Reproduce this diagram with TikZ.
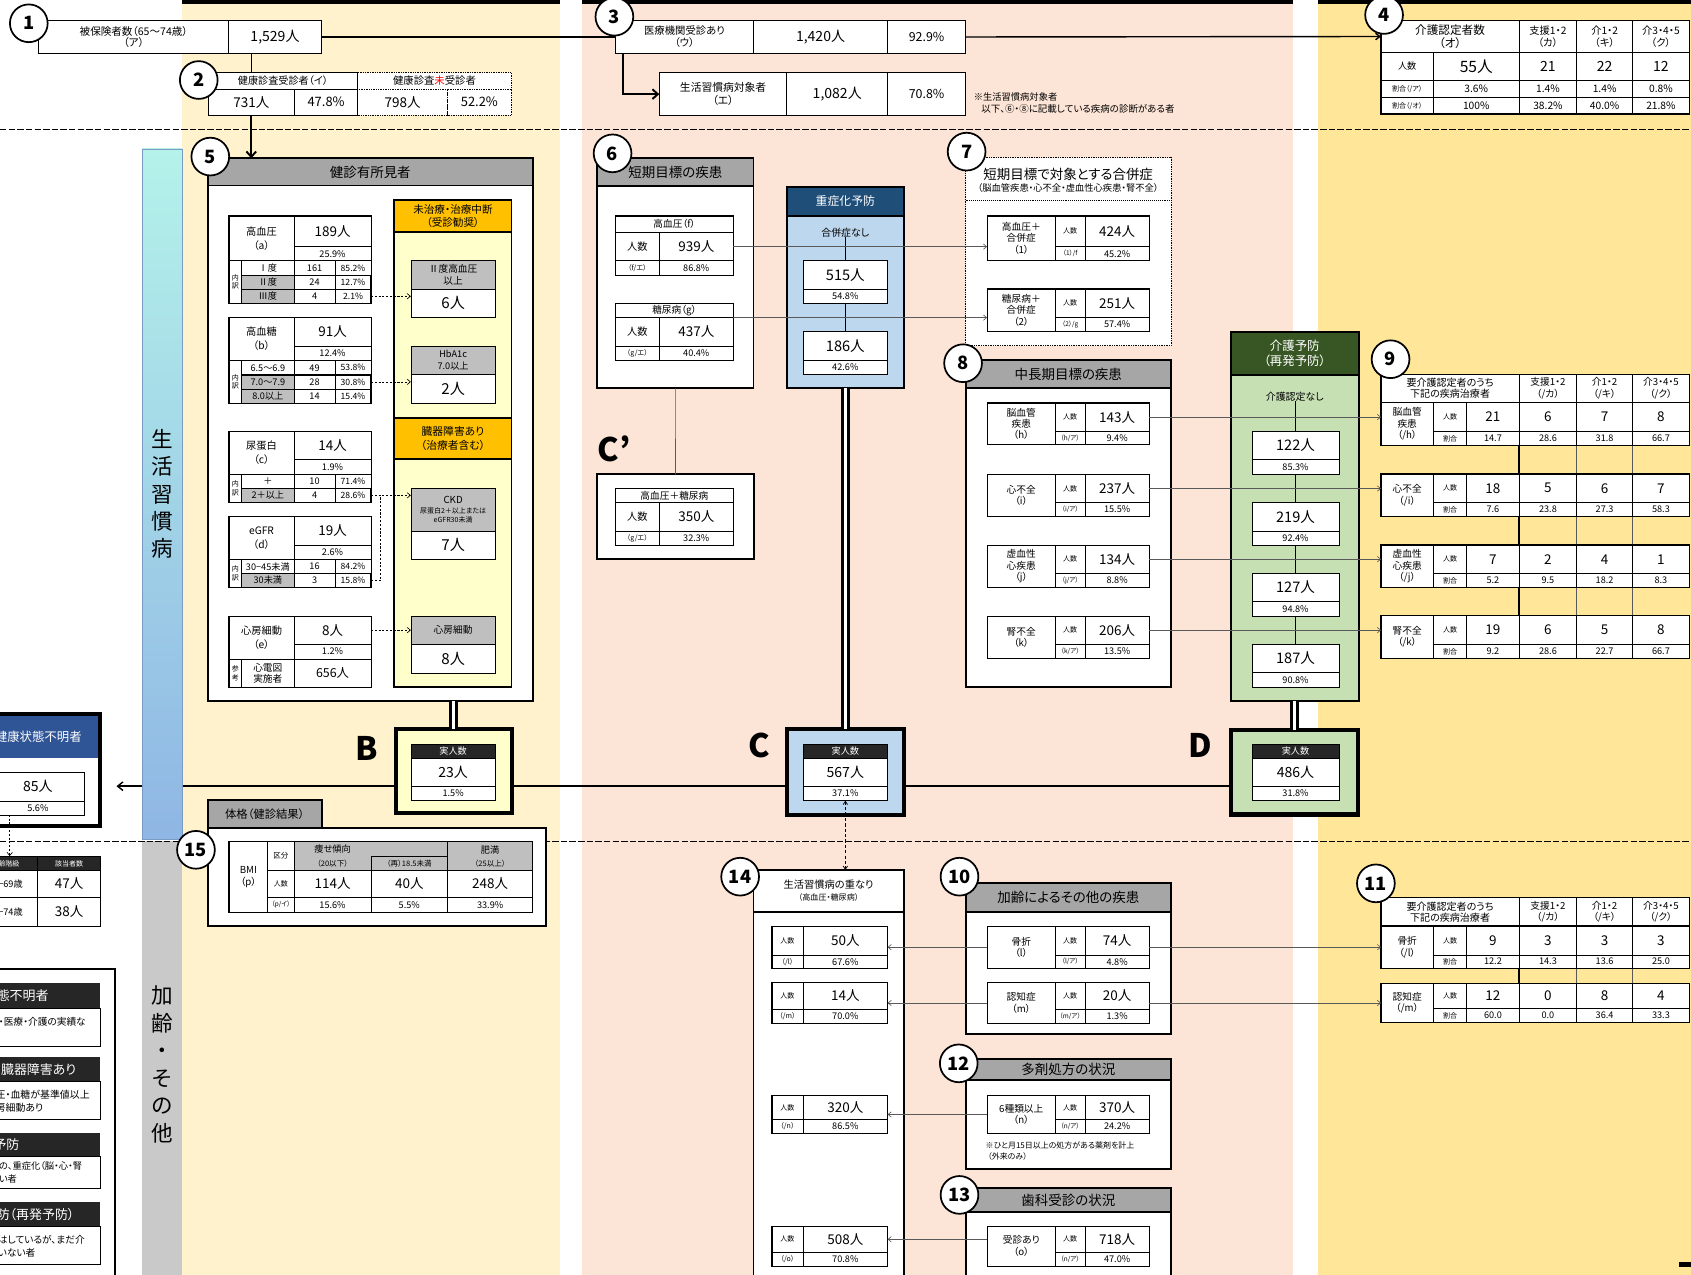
\documentclass[tikz,border=0pt]{standalone}
\usepackage{fontspec}
\setmainfont{Noto Sans CJK JP}[RawFeature=+palt]
\usetikzlibrary{arrows.meta,calc}
\definecolor{bgY}{HTML}{FFF2CC}
\definecolor{bgP}{HTML}{FCE4D6}
\definecolor{bgG}{HTML}{FFE699}
\definecolor{bandT}{HTML}{B4F2EA}
\definecolor{bandB}{HTML}{8FB6E4}
\definecolor{bandGr}{HTML}{C9C9C9}
\definecolor{grayH}{HTML}{A6A6A6}
\definecolor{cellG}{HTML}{BFBFBF}
\definecolor{goldH}{HTML}{FFC000}
\definecolor{ltY}{HTML}{FFFFCC}
\definecolor{dkBlue}{HTML}{1F4E79}
\definecolor{ltBlue}{HTML}{BDD7EE}
\definecolor{dkGreen}{HTML}{375623}
\definecolor{ltGreen}{HTML}{C6E0B4}
\definecolor{hdBlue}{HTML}{2F5597}
\definecolor{hdBlk}{HTML}{262626}
\definecolor{lnGray}{HTML}{595959}
\newcommand\xfz[2]{\fontsize{#1}{#2}\selectfont}
\newcommand\xcel[7][]{\node[cellbase,minimum width={(#5)-(#3)},minimum height={(#6)-(#4)},#1] (#2) at ({((#3)+(#5))/2},{((#4)+(#6))/2}) {#7};}
\newcommand\xhtop[7]{%
  \xcel[font=\xfz{9.5}{13}]{#1l}{212.3}{#2}{272.7}{#4}{#5}%
  \xcel[font=\xfz{12.5}{12.5}]{#1v}{272.7}{#2}{344}{#3}{#6}%
  \xcel[font=\xfz{8.5}{8.5}]{#1p}{272.7}{#3}{344}{#4}{#7}}
\newcommand\xhrow[7][fill=white]{%
  \xcel[#1,font=\xfz{8.5}{8.5}]{#2l}{224}{#3}{272.7}{#4}{#5}%
  \xcel[font=\xfz{8.5}{8.5}]{#2n}{272.7}{#3}{310.7}{#4}{#6}%
  \xcel[font=\xfz{8}{8}]{#2p}{310.7}{#3}{344}{#4}{#7}}
\newcommand\xstab[9]{%
  \xcel[font=\xfz{9}{9}]{#1h}{570.7}{#2}{680}{#3}{#6}%
  \xcel[font=\xfz{9.5}{9.5}]{#1n}{570.7}{#3}{611.3}{#4}{人数}%
  \xcel[font=\xfz{12.5}{12.5}]{#1v}{611.3}{#3}{680}{#4}{#7}%
  \xcel[font=\xfz{6.5}{6.5}]{#1r}{570.7}{#4}{611.3}{#5}{#8}%
  \xcel[font=\xfz{8.5}{8.5}]{#1p}{611.3}{#4}{680}{#5}{#9}%
  \draw[line width=0.9pt] (#1h.north west) rectangle (#1p.south east);}
\newcommand\xditem[8]{%
  \xcel[font=\xfz{9}{10.5}]{#1l}{915.3}{#2}{978.7}{#4}{#5}%
  \xcel[font=\xfz{6.5}{6.5}]{#1n}{978.7}{#2}{1006}{#3}{人数}%
  \xcel[font=\xfz{12.5}{12.5}]{#1v}{1006}{#2}{1065.8}{#3}{#6}%
  \xcel[font=\xfz{6}{6}]{#1r}{978.7}{#3}{1006}{#4}{#7}%
  \xcel[font=\xfz{8.5}{8.5}]{#1p}{1006}{#3}{1065.8}{#4}{#8}%
  \draw[line width=0.9pt] (#1l.north west) rectangle (#1p.south east);}
\newcommand\xlitem[7]{%
  \xcel[font=\xfz{6.5}{6.5}]{#1n}{715.7}{#2}{744.7}{#3}{人数}%
  \xcel[font=\xfz{12.5}{12.5}]{#1v}{744.7}{#2}{823}{#3}{#5}%
  \xcel[font=\xfz{6.5}{6.5}]{#1r}{715.7}{#3}{744.7}{#4}{#6}%
  \xcel[font=\xfz{8.5}{8.5}]{#1p}{744.7}{#3}{823}{#4}{#7}%
  \draw[line width=0.9pt] (#1n.north west) rectangle (#1p.south east);}
\newcommand\xkhdr[7]{%
  \xcel[font=\xfz{9.3}{10.5}]{#1t}{1280.6}{#2}{1408.6}{#3}{#4}%
  \xcel[font=\xfz{9}{10.5}]{#1a}{1408.6}{#2}{1462.1}{#3}{#5}%
  \xcel[font=\xfz{9}{10.5}]{#1b}{1462.1}{#2}{1513.7}{#3}{#6}%
  \xcel[font=\xfz{9}{10.5}]{#1c}{1513.7}{#2}{1566.5}{#3}{#7}%
  \draw[line width=1.1pt] (#1t.north west) rectangle (#1c.south east);}
\newcommand\xkrow[6]{%
  \xcel[font=\xfz{9}{10.5}]{#1l}{1280.6}{#2}{1329.1}{#4}{#5}%
  \xcel[font=\xfz{6.5}{6.5}]{#1n}{1329.1}{#2}{1360.1}{#3}{人数}%
  \xcel[font=\xfz{6.5}{6.5}]{#1r}{1329.1}{#3}{1360.1}{#4}{割合}%
  \foreach \nv/\rv [count=\ci] in {#6}{%
    \pgfmathsetmacro\xa{{1360.1,1408.6,1462.1,1513.7}[\ci-1]}%
    \pgfmathsetmacro\xb{{1408.6,1462.1,1513.7,1566.5}[\ci-1]}%
    \xcel[font=\xfz{12.5}{12.5}]{#1v\ci}{\xa}{#2}{\xb}{#3}{\nv}%
    \xcel[font=\xfz{8.5}{8.5}]{#1p\ci}{\xa}{#3}{\xb}{#4}{\rv}%
  }%
  \draw[line width=1.1pt] (#1l.north west) rectangle (#1p4.south east);
  \draw[line width=1.1pt] (#1v1.north east) -- (#1p1.south east);}
\tikzset{
  cellbase/.style={draw=black,line width=0.6pt,fill=white,inner sep=0pt,outer sep=0pt,align=center,font=\xfz{9}{10.5}},
  txt/.style={inner sep=0pt,outer sep=0pt,align=center},
  circnum/.style={circle,draw=black,line width=1.6pt,fill=white,minimum size=35pt,inner sep=0pt,font=\bfseries\xfz{17}{17}},
  biglbl/.style={inner sep=0pt,font=\bfseries\xfz{30}{30}},
  dotline/.style={line width=0.6pt,dash pattern=on 2pt off 1.5pt},
  dotarrow/.style={dotline,-{Straight Barb[length=3pt,width=5pt]}},
  gline/.style={draw=lnGray,line width=0.6pt},
  garrow/.style={gline,-{Straight Barb[length=3pt,width=5pt]}},
  mainline/.style={line width=1.3pt},
  bigarrow/.style={line width=1.8pt,-{Straight Barb[length=5pt,width=9pt]}},
  dbl/.style={double=white,double distance=3pt,line width=2.6pt},
  dashsep/.style={line width=1.1pt,dash pattern=on 6pt off 2pt},
  dashboth/.style={line width=0.7pt,dash pattern=on 3pt off 2pt,{Straight Barb[length=3pt,width=4pt]}-{Straight Barb[length=3pt,width=4pt]}},
  lgw/.style={txt,anchor=west,text=white,font=\xfz{12}{12}},
  lgb/.style={txt,anchor=west,align=left,font=\xfz{9}{12.4}}
}
\begin{document}
\begin{tikzpicture}[x=1pt,y=-1pt]
\useasboundingbox (0,0) rectangle (1568,1182);
\clip (0,0) rectangle (1568,1182);
% ---------------- backgrounds
\fill[bgY] (169,0) rectangle (519,1182);
\fill[bgP] (540,0) rectangle (1199,1182);
\fill[bgG] (1222,0) rectangle (1568,1182);
\fill[black] (169,0) rectangle (519,4);
\fill[black] (540,0) rectangle (1199,4);
\fill[black] (1222,0) rectangle (1568,4);
\node[draw=bandB!85!black,line width=0.5pt,top color=bandT,bottom color=bandB,minimum width=37pt,minimum height=640pt,inner sep=0pt,align=center,font=\xfz{20}{25.3}] (band) at (150.5,458) {生\\活\\習\\慣\\病};
\node[fill=bandGr,minimum width=37pt,minimum height=402pt,inner sep=0pt] (band2) at (150.5,981) {};
\node[txt,font=\xfz{20}{25.6}] (band2t) at (150.5,987) {加\\齢\\・\\そ\\の\\他};
\draw[dashsep] (0,120) -- (1568,120);
\draw[dashsep] (0,780) -- (1568,780);
\fill[black] (1556.7,1169.8) rectangle (1568,1174.4);
% ---------------- box 1,2,3
\xcel[font=\xfz{9.8}{11},line width=0.9pt]{b1l}{36}{19.2}{212}{49.4}{被保険者数（65～74歳）\\（ア）}
\xcel[font=\xfz{13}{13},line width=0.9pt]{b1v}{212}{19.2}{298}{49.4}{1,529人}
\xcel[font=\xfz{9.4}{9.4}]{b2ha}{193}{67.4}{331.7}{82.8}{健康診査受診者（イ）}
\xcel[font=\xfz{9.6}{9.6},densely dotted]{b2hb}{331.7}{67.4}{474}{82.8}{健康診査\textcolor{red}{未}受診者}
\xcel[font=\xfz{12.5}{12.5}]{b2va}{193}{82.8}{273}{106.6}{731人}
\xcel[font=\xfz{12}{12}]{b2pa}{273}{82.8}{331.7}{106.6}{47.8\%}
\xcel[font=\xfz{12.5}{12.5},densely dotted]{b2vb}{331.7}{82.8}{415}{106.6}{798人}
\xcel[font=\xfz{12}{12},densely dotted]{b2pb}{415}{82.8}{474}{106.6}{52.2\%}
\xcel[font=\xfz{9.6}{11},line width=0.9pt]{b3l}{570.7}{19.2}{698.7}{49.4}{医療機関受診あり\\（ウ）}
\xcel[font=\xfz{13}{13},line width=0.9pt]{b3v}{698.7}{19.2}{823}{49.4}{1,420人}
\xcel[font=\xfz{11.5}{11.5},line width=0.9pt]{b3p}{823}{19.2}{895.3}{49.4}{92.9\%}
\xcel[font=\xfz{10}{11.5},line width=0.9pt]{b3sl}{611.3}{67.4}{729.7}{107.2}{生活習慣病対象者\\（エ）}
\xcel[font=\xfz{13}{13},line width=0.9pt]{b3sv}{729.7}{67.4}{823}{107.2}{1,082人}
\xcel[font=\xfz{11.5}{11.5},line width=0.9pt]{b3sp}{823}{67.4}{895.3}{107.2}{70.8\%}
\node[txt,anchor=west,font=\xfz{8.6}{8.6}] (n3a) at (903,89.5) {※生活習慣病対象者};
\node[txt,anchor=west,font=\xfz{8.8}{8.8}] (n3b) at (910,101) {以下、⑥・⑧に記載している疾病の診断がある者};
% ---------------- box 4
\xcel[font=\xfz{10.8}{12}]{q4h}{1280.6}{19.2}{1408.6}{48.5}{介護認定者数\\（オ）}
\xcel[font=\xfz{9.5}{11.5}]{q4a}{1408.6}{19.2}{1462.1}{48.5}{支援1・2\\（カ）}
\xcel[font=\xfz{9.5}{11.5}]{q4b}{1462.1}{19.2}{1513.7}{48.5}{介1・2\\（キ）}
\xcel[font=\xfz{9.5}{11.5}]{q4c}{1513.7}{19.2}{1566.5}{48.5}{介3・4・5\\（ク）}
\xcel[font=\xfz{8.5}{8.5}]{q4n}{1280.6}{48.5}{1329.1}{74.8}{人数}
\xcel[font=\xfz{14.5}{14.5}]{q4v}{1329.1}{48.5}{1408.6}{74.8}{55人}
\xcel[font=\xfz{13}{13}]{q4va}{1408.6}{48.5}{1462.1}{74.8}{21}
\xcel[font=\xfz{13}{13}]{q4vb}{1462.1}{48.5}{1513.7}{74.8}{22}
\xcel[font=\xfz{13}{13}]{q4vc}{1513.7}{48.5}{1566.5}{74.8}{12}
\xcel[font=\xfz{6.5}{6.5}]{q4r}{1280.6}{74.8}{1329.1}{90.3}{割合（/ア）}
\xcel[font=\xfz{9.5}{9.5}]{q4r0}{1329.1}{74.8}{1408.6}{90.3}{3.6\%}
\xcel[font=\xfz{9.5}{9.5}]{q4ra}{1408.6}{74.8}{1462.1}{90.3}{1.4\%}
\xcel[font=\xfz{9.5}{9.5}]{q4rb}{1462.1}{74.8}{1513.7}{90.3}{1.4\%}
\xcel[font=\xfz{9.5}{9.5}]{q4rc}{1513.7}{74.8}{1566.5}{90.3}{0.8\%}
\xcel[font=\xfz{6.5}{6.5}]{q4s}{1280.6}{90.3}{1329.1}{105.7}{割合（/オ）}
\xcel[font=\xfz{9.5}{9.5}]{q4s0}{1329.1}{90.3}{1408.6}{105.7}{100\%}
\xcel[font=\xfz{9.5}{9.5}]{q4sa}{1408.6}{90.3}{1462.1}{105.7}{38.2\%}
\xcel[font=\xfz{9.5}{9.5}]{q4sb}{1462.1}{90.3}{1513.7}{105.7}{40.0\%}
\xcel[font=\xfz{9.5}{9.5}]{q4sc}{1513.7}{90.3}{1566.5}{105.7}{21.8\%}
\draw[line width=1.3pt] (q4h.north west) rectangle (q4sc.south east);
% ---------------- box 5
\xcel[line width=1.8pt]{b5}{192.7}{146.8}{494}{650}{}
\xcel[fill=grayH,line width=1.8pt,font=\xfz{12.5}{12.5}]{b5h}{192.7}{146.8}{494}{172}{健診有所見者}
\xhtop{ta}{200.2}{228.7}{241.7}{高血圧\\（a）}{189人}{25.9\%}
\xcel[font=\xfz{6.5}{8}]{tan}{212.3}{241.7}{224}{281.2}{内\\訳}
\xhrow{taa}{241.7}{255.2}{Ⅰ度}{161}{85.2\%}
\xhrow[fill=cellG]{tab}{255.2}{268.2}{Ⅱ度}{24}{12.7\%}
\xhrow[fill=cellG]{tac}{268.2}{281.2}{Ⅲ度}{4}{2.1\%}
\draw[line width=1.2pt] (tabl.north west) rectangle (tacp.south east);
\draw[line width=0.9pt] (tal.north west) rectangle (tacp.south east);
\xhtop{tb}{294.2}{320.8}{334.4}{高血糖\\（b）}{91人}{12.4\%}
\xcel[font=\xfz{6.5}{8}]{tbn}{212.3}{334.4}{224}{373.9}{内\\訳}
\xhrow{tba}{334.4}{347.6}{6.5～6.9}{49}{53.8\%}
\xhrow[fill=cellG]{tbb}{347.6}{360.6}{7.0～7.9}{28}{30.8\%}
\xhrow[fill=cellG]{tbc}{360.6}{373.9}{8.0以上}{14}{15.4\%}
\draw[line width=1.2pt] (tbbl.north west) rectangle (tbcp.south east);
\draw[line width=0.9pt] (tbl.north west) rectangle (tbcp.south east);
\xhtop{tc}{399.7}{425.9}{439.8}{尿蛋白\\（c）}{14人}{1.9\%}
\xcel[font=\xfz{6.5}{8}]{tcn}{212.3}{439.8}{224}{465.8}{内\\訳}
\xhrow{tca}{439.8}{452.8}{＋}{10}{71.4\%}
\xhrow[fill=cellG]{tcb}{452.8}{465.8}{2＋以上}{4}{28.6\%}
\draw[line width=1.2pt] (tcbl.north west) rectangle (tcbp.south east);
\draw[line width=0.9pt] (tcl.north west) rectangle (tcbp.south east);
\xhtop{td}{479}{505.3}{518.9}{eGFR\\（d）}{19人}{2.6\%}
\xcel[font=\xfz{6.5}{8}]{tdn}{212.3}{518.9}{224}{544.5}{内\\訳}
\xhrow{tda}{518.9}{531.9}{30−45未満}{16}{84.2\%}
\xhrow[fill=cellG]{tdb}{531.9}{544.5}{30未満}{3}{15.8\%}
\draw[line width=1.2pt] (tdbl.north west) rectangle (tdbp.south east);
\draw[line width=0.9pt] (tdl.north west) rectangle (tdbp.south east);
\xhtop{te}{571.2}{597.4}{611}{心房細動\\（e）}{8人}{1.2\%}
\xcel[font=\xfz{6.5}{8}]{ten}{212.3}{611}{224}{637.3}{参\\考}
\xcel[font=\xfz{9}{10.5}]{tee}{224}{611}{272.7}{637.3}{心電図\\実施者}
\xcel[font=\xfz{11.5}{11.5}]{tex}{272.7}{611}{344}{637.3}{656人}
\draw[line width=0.9pt] (tel.north west) rectangle (tex.south east);
% yellow column
\xcel[fill=ltY,line width=1.8pt]{yc}{365.7}{185.4}{474.3}{637.3}{}
\xcel[fill=goldH,line width=1.8pt,font=\xfz{9.8}{12}]{yh1}{365.7}{185.4}{474.3}{214.8}{未治療・治療中断\\（受診勧奨）}
\xcel[fill=goldH,line width=1.8pt,font=\xfz{10}{13}]{yh2}{365.7}{387.3}{474.3}{426}{臓器障害あり\\（治療者含む）}
\xcel[fill=cellG,font=\xfz{9}{11.5}]{y1h}{381}{241.7}{459.3}{268.2}{Ⅱ度高血圧\\以上}
\xcel[font=\xfz{14}{14}]{y1v}{381}{268.2}{459.3}{294.5}{6人}
\xcel[fill=cellG,font=\xfz{8.5}{11}]{y2h}{381}{320.8}{459.3}{347}{HbA1c\\7.0以上}
\xcel[font=\xfz{14}{14}]{y2v}{381}{347}{459.3}{373.9}{2人}
\xcel[fill=cellG,font=\xfz{6.5}{9}]{y3h}{381}{452.8}{459.3}{492.4}{{\xfz{9}{9}CKD}\\尿蛋白2＋以上または\\eGFR30未満}
\xcel[font=\xfz{14}{14}]{y3v}{381}{492.4}{459.3}{518.9}{7人}
\xcel[fill=cellG,font=\xfz{9}{9}]{y4h}{381}{571.2}{459.3}{597.4}{心房細動}
\xcel[font=\xfz{14}{14}]{y4v}{381}{597.4}{459.3}{624.3}{8人}
% ---------------- B box
\xcel[fill=ltY,line width=4pt]{Bo}{367}{675.8}{474.7}{753.7}{}
\xcel[fill=hdBlk,text=white,font=\xfz{8.5}{8.5}]{Bh}{381}{690}{459.3}{703}{実人数}
\xcel[font=\xfz{13}{13}]{Bv}{381}{703}{459.3}{729}{23人}
\xcel[font=\xfz{8.5}{8.5}]{Bp}{381}{729}{459.3}{742.4}{1.5\%}
% ---------------- box 15
\xcel[line width=1.8pt]{b15}{192.7}{767.5}{506}{858.7}{}
\xcel[fill=grayH,line width=1.5pt,font=\xfz{10.5}{10.5}]{b15t}{192.7}{742}{298.3}{767.5}{体格（健診結果）}
\xcel[font=\xfz{9}{11}]{pl}{212.3}{780.4}{248.3}{845.7}{BMI\\（p）}
\xcel[font=\xfz{7}{7}]{pk}{248.3}{780.4}{272.7}{807.4}{区分}
\xcel[fill=cellG]{pha}{272.7}{780.4}{415}{807.4}{}
\node[txt,font=\xfz{8.5}{12.5}] (phat) at (308.4,793.6) {痩せ傾向\\{\xfz{7}{12.5}（20以下）}};
\xcel[fill=cellG,font=\xfz{7}{7}]{phb}{344}{793.8}{415}{807.4}{（再）18.5未満}
\xcel[fill=cellG,font=\xfz{8.5}{12}]{phc}{415}{780.4}{494}{807.4}{肥満\\{\xfz{7}{12}（25以上）}}
\xcel[font=\xfz{6.5}{6.5}]{pn}{248.3}{807.4}{272.7}{832}{人数}
\xcel[font=\xfz{12.5}{12.5}]{pva}{272.7}{807.4}{344}{832}{114人}
\xcel[font=\xfz{12.5}{12.5}]{pvb}{344}{807.4}{415}{832}{40人}
\xcel[font=\xfz{12.5}{12.5}]{pvc}{415}{807.4}{494}{832}{248人}
\xcel[font=\xfz{6}{6}]{pr}{248.3}{832}{272.7}{845.7}{（p/イ）}
\xcel[font=\xfz{8.5}{8.5}]{ppa}{272.7}{832}{344}{845.7}{15.6\%}
\xcel[font=\xfz{8.5}{8.5}]{ppb}{344}{832}{415}{845.7}{5.5\%}
\xcel[font=\xfz{8.5}{8.5}]{ppc}{415}{832}{494}{845.7}{33.9\%}
\draw[line width=1pt] (pl.north west) rectangle (ppc.south east);
% ---------------- left: unknown health state
\xcel[line width=4pt]{Uo}{-20}{661.8}{93}{766}{}
\xcel[fill=hdBlue,draw=none,text=white,font=\xfz{11.5}{11.5}]{Uh}{-20}{663.8}{91}{702.5}{健康状態不明者}
\xcel[font=\xfz{13}{13}]{Uv}{-8}{716.4}{78.3}{742.7}{85人}
\xcel[font=\xfz{8.5}{8.5}]{Up}{-8}{742.7}{78.3}{755.6}{5.6\%}
\xcel[fill=hdBlk,text=white,font=\xfz{6.5}{6.5}]{Aha}{-25}{793.8}{35}{807.4}{年齢階級}
\xcel[fill=hdBlk,text=white,font=\xfz{6.5}{6.5}]{Ahb}{35}{793.8}{93.3}{807.4}{該当者数}
\xcel[font=\xfz{8.5}{8.5}]{Aal}{-25}{807.4}{35}{832}{65−69歳}
\xcel[font=\xfz{12.5}{12.5}]{Aav}{35}{807.4}{93.3}{832}{47人}
\xcel[font=\xfz{8.5}{8.5}]{Abl}{-25}{832}{35}{858.7}{70−74歳}
\xcel[font=\xfz{12.5}{12.5}]{Abv}{35}{832}{93.3}{858.7}{38人}
\coordinate (uA) at (9,755.6);
\draw[dotarrow] (uA) -- (uA |- Aha.north);
% legend
\xcel[line width=1.8pt]{Lo}{-20}{898.9}{107}{1200}{}
\xcel[fill=hdBlk,draw=none]{L1h}{-20}{911.8}{93}{935}{}
\xcel[line width=0.8pt]{L1b}{-20}{935}{93}{970.5}{}
\xcel[fill=hdBlk,draw=none]{L2h}{-20}{980.4}{93}{1003}{}
\xcel[line width=0.8pt]{L2b}{-20}{1003}{93}{1038}{}
\xcel[fill=hdBlk,draw=none]{L3h}{-20}{1050.9}{93}{1071.9}{}
\xcel[line width=0.8pt]{L3b}{-20}{1071.9}{93}{1102}{}
\xcel[fill=hdBlk,draw=none]{L4h}{-20}{1115}{93}{1137.4}{}
\xcel[line width=0.8pt]{L4b}{-20}{1137.4}{93}{1172.9}{}
\node[lgw] (L1t) at (-3,923.4) {態不明者};
\node[lgb] (L1s) at (-1,947.3) {・医療・介護の実績な};
\node[lgw] (L2t) at (1,991.7) {臓器障害あり};
\node[lgb,font=\xfz{9.2}{12.4}] (L2s) at (-4,1020.9) {圧・血糖が基準値以上\\房細動あり};
\node[lgw] (L3t) at (-6,1061.4) {予防};
\node[lgb,font=\xfz{8.6}{12.5}] (L3s) at (-1,1087.2) {の、重症化（脳・心・腎\\い者};
\node[lgw] (L4t) at (-3,1126.2) {防（再発予防）};
\node[lgb] (L4s) at (-2,1155.9) {はしているが、まだ介\\いない者};
% ---------------- box 6 and C'
\xcel[line width=1.8pt]{b6}{553.7}{146.8}{698.7}{360}{}
\xcel[fill=grayH,line width=1.8pt,font=\xfz{12.5}{12.5}]{b6h}{553.7}{146.8}{698.7}{172.1}{短期目標の疾患}
\xstab{sf}{200.2}{215.7}{241.7}{255.2}{高血圧（f）}{939人}{（f/エ）}{86.8\%}
\xstab{sg}{281.2}{294.5}{320.8}{334.4}{糖尿病（g）}{437人}{（g/エ）}{40.4\%}
\xcel[line width=1.8pt]{cpb}{553.7}{439.8}{699}{518.6}{}
\xstab{scq}{452.8}{466.1}{492.4}{505.4}{高血圧＋糖尿病}{350人}{（g/エ）}{32.3\%}
% ---------------- severity prevention column
\xcel[fill=ltBlue,line width=1.8pt]{bc}{729.7}{173}{838}{360}{}
\xcel[fill=dkBlue,text=white,line width=1.8pt,font=\xfz{11}{11}]{bch}{729.7}{173}{838}{200.2}{重症化予防}
\node[txt,font=\xfz{9.2}{9.2}] (bcs) at (783.8,215.4) {合併症なし};
\xcel[font=\xfz{13.5}{13.5}]{bc1v}{744.7}{241.7}{823}{268.2}{515人}
\xcel[font=\xfz{8.5}{8.5}]{bc1p}{744.7}{268.2}{823}{281.2}{54.8\%}
\xcel[font=\xfz{13.5}{13.5}]{bc2v}{744.7}{307.5}{823}{333.7}{186人}
\xcel[font=\xfz{8.5}{8.5}]{bc2p}{744.7}{333.7}{823}{347}{42.6\%}
\draw[line width=0.7pt] (bcs.south -| bc1v.north) -- (bc1v.north);
\draw[line width=0.7pt] (bc1p.south) -- (bc2v.north);
% C box
\xcel[fill=ltBlue,line width=4pt]{Co}{730}{675.8}{838.3}{755.8}{}
\xcel[fill=hdBlk,text=white,font=\xfz{8.5}{8.5}]{Ch}{744.7}{690.1}{823}{703.1}{実人数}
\xcel[font=\xfz{13}{13}]{Cv}{744.7}{703.1}{823}{728.8}{567人}
\xcel[font=\xfz{8.5}{8.5}]{Cp}{744.7}{728.8}{823}{742.4}{37.1\%}
% ---------------- box 7
\xcel[densely dotted,line width=0.8pt]{b7}{895.3}{146.2}{1085.8}{320.5}{}
\node[txt,font=\xfz{12.5}{12.5}] (b7t) at (990.5,161.3) {短期目標で対象とする合併症};
\node[txt,font=\xfz{8.6}{8.6}] (b7s) at (990.5,174) {（脳血管疾患・心不全・虚血性心疾患・腎不全）};
\draw[densely dotted,line width=0.8pt] (895.3,185.4) -- (1085.8,185.4);
\xditem{sa}{200.2}{228.7}{241.7}{高血圧＋\\合併症\\（1）}{424人}{（1）/f}{45.2\%}
\xditem{sb}{267.9}{294.5}{307.5}{糖尿病＋\\合併症\\（2）}{251人}{（2）/g}{57.4\%}
% ---------------- box 8
\xcel[line width=1.8pt]{b8}{895.3}{333.7}{1085.8}{636.7}{}
\xcel[fill=grayH,line width=1.8pt,font=\xfz{12.5}{12.5}]{b8h}{895.3}{333.7}{1085.8}{360}{中長期目標の疾患}
\xditem{mh}{373.6}{399.9}{412.3}{脳血管\\疾患\\（h）}{143人}{（h/ア）}{9.4\%}
\xditem{mi}{439.8}{466.1}{478.5}{心不全\\（i）}{237人}{（i/ア）}{15.5\%}
\xditem{mj}{505.4}{531.6}{544.6}{虚血性\\心疾患\\（j）}{134人}{（j/ア）}{8.8\%}
\xditem{mk}{571.2}{597.4}{610.4}{腎不全\\（k）}{206人}{（k/ア）}{13.5\%}
% ---------------- care prevention column
\xcel[fill=ltGreen,line width=1.8pt]{gc}{1141.1}{307.5}{1260.1}{650}{}
\xcel[fill=dkGreen,text=white,line width=1.8pt,font=\xfz{11.5}{13.5}]{gch}{1141.1}{307.5}{1260.1}{347.6}{介護予防\\（再発予防）}
\node[txt,font=\xfz{9.2}{9.2}] (gcs) at (1200.6,367.7) {介護認定なし};
\xcel[font=\xfz{13.5}{13.5}]{gc1v}{1160.8}{399.7}{1241.8}{425.9}{122人}
\xcel[font=\xfz{8.5}{8.5}]{gc1p}{1160.8}{425.9}{1241.8}{439.8}{85.3\%}
\xcel[font=\xfz{13.5}{13.5}]{gc2v}{1160.8}{465.8}{1241.8}{492.4}{219人}
\xcel[font=\xfz{8.5}{8.5}]{gc2p}{1160.8}{492.4}{1241.8}{505.4}{92.4\%}
\xcel[font=\xfz{13.5}{13.5}]{gc3v}{1160.8}{531.6}{1241.8}{557.9}{127人}
\xcel[font=\xfz{8.5}{8.5}]{gc3p}{1160.8}{557.9}{1241.8}{571.2}{94.8\%}
\xcel[font=\xfz{13.5}{13.5}]{gc4v}{1160.8}{597.4}{1241.8}{623.7}{187人}
\xcel[font=\xfz{8.5}{8.5}]{gc4p}{1160.8}{623.7}{1241.8}{637.3}{90.8\%}
\draw[line width=0.7pt] (gcs.south -| gc1v.north) -- (gc1v.north);
\draw[line width=0.7pt] (gc1p.south) -- (gc2v.north);
\draw[line width=0.7pt] (gc2p.south) -- (gc3v.north);
\draw[line width=0.7pt] (gc3p.south) -- (gc4v.north);
% D box
\xcel[fill=ltGreen,line width=4pt]{Do}{1141.4}{676.7}{1259.1}{755.2}{}
\xcel[fill=hdBlk,text=white,font=\xfz{8.5}{8.5}]{Dh}{1160.8}{690.1}{1241.8}{703.1}{実人数}
\xcel[font=\xfz{13}{13}]{Dv}{1160.8}{703.1}{1241.8}{728.8}{486人}
\xcel[font=\xfz{8.5}{8.5}]{Dp}{1160.8}{728.8}{1241.8}{742.4}{31.8\%}
% ---------------- box 9
\draw[line width=1.2pt] (1408.6,373.1) -- (1408.6,610.5);
\draw[gline] (1462.1,373.1) -- (1462.1,610.5);
\draw[gline] (1513.7,373.1) -- (1513.7,610.5);
\xkhdr{n9}{347.2}{373.1}{要介護認定者のうち\\下記の疾病治療者}{支援1・2\\（/カ）}{介1・2\\（/キ）}{介3・4・5\\（/ク）}
\xkrow{n9h}{373.1}{399.7}{413.3}{脳血管\\疾患\\（/h）}{21/14.7,6/28.6,7/31.8,8/66.7}
\xkrow{n9i}{439.6}{465.9}{478.9}{心不全\\（/i）}{18/7.6,5/23.8,6/27.3,7/58.3}
\xkrow{n9j}{505.4}{531.7}{544.7}{虚血性\\心疾患\\（/j）}{7/5.2,2/9.5,4/18.2,1/8.3}
\xkrow{n9k}{571}{597.5}{610.5}{腎不全\\（/k）}{19/9.2,6/28.6,5/22.7,8/66.7}
% ---------------- box 10
\xcel[line width=1.8pt]{b10}{895.3}{818.5}{1086}{959.1}{}
\xcel[fill=grayH,line width=1.8pt,font=\xfz{12.5}{12.5}]{b10h}{895.3}{818.5}{1086}{845.4}{加齢によるその他の疾患}
\xditem{xl}{858.7}{885.5}{897.9}{骨折\\（l）}{74人}{（l/ア）}{4.8\%}
\xditem{xm}{911.2}{935.9}{948.9}{認知症\\（m）}{20人}{（m/ア）}{1.3\%}
% ---------------- box 11
\draw[line width=1.2pt] (1408.6,858.7) -- (1408.6,948.3);
\draw[gline] (1462.1,858.7) -- (1462.1,948.3);
\draw[gline] (1513.7,858.7) -- (1513.7,948.3);
\xkhdr{n11}{832.4}{858.7}{要介護認定者のうち\\下記の疾病治療者}{支援1・2\\（/カ）}{介1・2\\（/キ）}{介3・4・5\\（/ク）}
\xkrow{n11l}{858.7}{885.5}{897.9}{骨折\\（/l）}{9/12.2,3/14.3,3/13.6,3/25.0}
\xkrow{n11m}{911.8}{935}{948.3}{認知症\\（/m）}{12/60.0,0/0.0,8/36.4,4/33.3}
% ---------------- box 12, 13
\xcel[line width=1.8pt]{b12}{895.3}{982.3}{1086}{1084.2}{}
\xcel[fill=grayH,line width=1.8pt,font=\xfz{12.5}{12.5}]{b12h}{895.3}{982.3}{1086}{1001.4}{多剤処方の状況}
\xditem{yn}{1015.9}{1037.9}{1050.9}{6種類以上\\（n）}{370人}{（n/ア）}{24.2\%}
\node[txt,anchor=west,font=\xfz{7.4}{7.4}] (n12a) at (914,1062) {※ひと月15日以上の処方がある薬剤を計上};
\node[txt,anchor=west,font=\xfz{7.4}{7.4}] (n12b) at (916,1072.5) {（外来のみ）};
\xcel[line width=1.8pt]{b13}{895.3}{1101.9}{1086}{1200}{}
\xcel[fill=grayH,line width=1.8pt,font=\xfz{12.5}{12.5}]{b13h}{895.3}{1101.9}{1086}{1123.5}{歯科受診の状況}
\xditem{zo}{1136.8}{1161.5}{1173.9}{受診あり\\（o）}{718人}{（n/ア）}{47.0\%}
% ---------------- box 14
\xcel[line width=1.8pt]{b14}{698.7}{806.7}{838}{1200}{}
\xcel[line width=1.8pt,font=\xfz{9.5}{11}]{b14h}{698.7}{806.7}{838}{845.4}{生活習慣病の重なり\\{\xfz{7.5}{11}（高血圧・糖尿病）}}
\xlitem{wa}{858.7}{885.5}{897.9}{50人}{（/l）}{67.6\%}
\xlitem{wb}{911.2}{935.9}{948.9}{14人}{（/m）}{70.0\%}
\xlitem{wc}{1015.9}{1037.9}{1050.9}{320人}{（/n）}{86.5\%}
\xlitem{wd}{1136.8}{1161.5}{1173.9}{508人}{（/o）}{70.8\%}
% ---------------- connectors
\draw[mainline] (b1v.east) -- (b3l.west);
\draw[mainline,-{Straight Barb[length=4pt,width=6pt]}] (b3p.east) -- (q4h.west);
\draw[mainline] (b2va.north |- b1v.south) -- (b2va.north |- b2ha.north);
\draw[bigarrow] (b2va.south) -- (b2va.south |- b5h.north);
\coordinate (j3) at (577.3,49.4);
\draw[bigarrow] (j3) |- (b3sl.west);
\draw[dotarrow] (tacp.east) -- (tacp.east -| y1v.west);
\draw[dotarrow] (tbbp.east) -- (tbbp.east -| y2v.west);
\draw[dotarrow] (tcbp.east) -- (tcbp.east -| y3h.west);
\draw[dotline] (tdbp.east) -| ($(tcbp.east)+(9,0)$);
\draw[dotarrow] (tev.east) -- (tev.east -| y4h.west);
\draw[dbl] (Bo.north) -- (Bo.north |- b5.south);
\draw[dbl] (Co.north) -- (Co.north |- bc.south);
\draw[dbl] (Do.north) -- (Do.north |- gc.south);
\draw[mainline] (band.east |- Bv.south) -- (Bo.west |- Bv.south);
\draw[mainline,-{Straight Barb[length=5pt,width=8pt]}] (band.west |- Bv.south) -- ($(Uo.east |- Bv.south)+(15,0)$);
\draw[mainline] (Bo.east |- Bv.south) -- (Co.west |- Bv.south);
\draw[mainline] (Co.east |- Bv.south) -- (Do.west |- Bv.south);
\draw[gline] (b6.south) -- (cpb.north);
\draw[garrow] (sfv.east) -- (sfv.east -| sal.west);
\draw[garrow] (sgh.south east) -- (sgh.south east -| sbl.west);
\draw[garrow] (mhv.east) -- (mhv.east -| n9hl.west);
\draw[garrow] (miv.east) -- (miv.east -| n9il.west);
\draw[garrow] (mjv.east) -- (mjv.east -| n9jl.west);
\draw[garrow] (mkv.east) -- (mkv.east -| n9kl.west);
\draw[garrow] (xlv.east |- xll.east) -- (xll.east -| n11ll.west);
\draw[garrow] (xmv.east |- xml.east) -- (xml.east -| n11ml.west);
\draw[garrow] (xll.west) -- (xll.west -| wav.east);
\draw[garrow] (xml.west) -- (xml.west -| wbv.east);
\draw[garrow] (ynl.west) -- (ynl.west -| wcv.east);
\draw[garrow] (zol.west |- zov.west) -- (zov.west -| wdv.east);
\draw[dashboth] (Cp.south) -- (Cp.south |- b14h.north);
% ---------------- circles and labels
\node[circnum] (c1) at (26.7,21.6) {1};
\node[circnum] (c2) at (184.3,74.2) {2};
\node[circnum] (c3) at (569.7,15.5) {3};
\node[circnum] (c4) at (1283.4,13.9) {4};
\node[circnum] (c5) at (195,145.2) {5};
\node[circnum] (c6) at (568,142.2) {6};
\node[circnum] (c7) at (896.3,140.6) {7};
\node[circnum] (c8) at (893,336.8) {8};
\node[circnum] (c9) at (1289.4,333.1) {9};
\node[circnum] (c10) at (889.7,812.9) {10};
\node[circnum] (c11) at (1275.8,819.1) {11};
\node[circnum] (c12) at (889,986) {12};
\node[circnum] (c13) at (889.7,1108) {13};
\node[circnum] (c14) at (686.3,812.9) {14};
\node[circnum] (c15) at (181.7,788) {15};
\node[biglbl] (lB) at (340,693.9) {B};
\node[biglbl] (lC) at (704.3,690.8) {C};
\node[biglbl] (lD) at (1113.4,690.8) {D};
\node[biglbl] (lCp) at (569.7,416.5) {C’};
\end{tikzpicture}
\end{document}
